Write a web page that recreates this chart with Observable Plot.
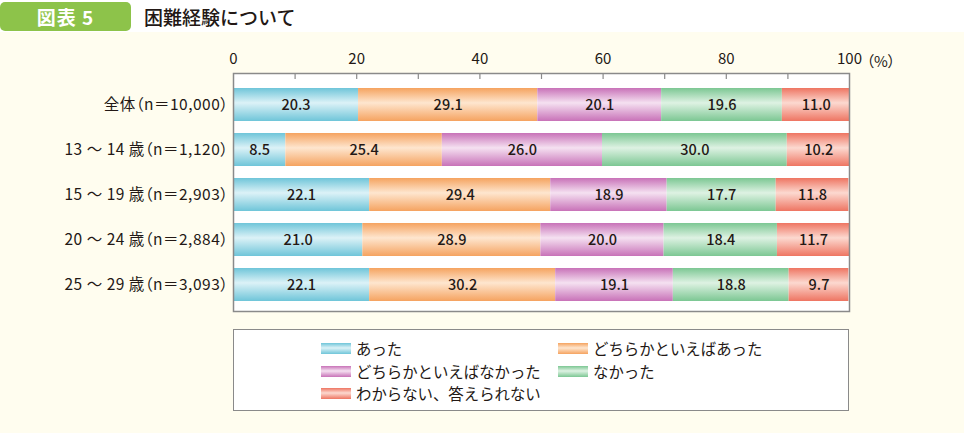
<!DOCTYPE html>
<html>
<head>
<meta charset="utf-8">
<script src="https://cdn.jsdelivr.net/npm/d3@7"></script>
<script src="https://cdn.jsdelivr.net/npm/@observablehq/plot@0.6"></script>
<style>
  body { margin: 0; background: #ffffff; font-family: "Noto Sans CJK JP", sans-serif; }
  svg text { font-feature-settings: "palt"; }
  #wrap { position: relative; width: 964px; height: 433px; overflow: hidden; background: #ffffff; }
  #cream { position: absolute; left: 0; top: 32px; width: 964px; height: 401px; background: #fffdef; }
  #badge { position: absolute; left: 0; top: 2px; width: 131px; height: 29px; background: #8dc34a; border-radius: 5px;
           color: #fff; font-weight: bold; font-size: 19px; line-height: 29px; text-align: center; letter-spacing: 1px; font-feature-settings: "palt"; }
  #title { position: absolute; left: 144px; top: 2px; height: 30px; line-height: 30px; font-size: 19px; color: #231815; font-weight: 500; }
  #chart { position: absolute; left: 0; top: 40px; }
  #legend { position: absolute; left: 233px; top: 329px; width: 614px; height: 80px; background: #fff; border: 1.5px solid #8a8a8a; }
  .item { position: absolute; font-size: 15.4px; color: #231815; line-height: 20px; white-space: nowrap; }
  .sw { position: absolute; width: 30px; height: 11px; }
  .ylab text { letter-spacing: 0.5px; }
</style>
</head>
<body>
<div id="wrap">
  <div id="cream"></div>
  <div id="badge">図表 5</div>
  <div id="title">困難経験について</div>
  <div id="chart"></div>
  <div id="legend"></div>
</div>
<script>
// ---- data ----
const groups = [
  "全体（n＝10,000）",
  "13 ～ 14 歳（n＝1,120）",
  "15 ～ 19 歳（n＝2,903）",
  "20 ～ 24 歳（n＝2,884）",
  "25 ～ 29 歳（n＝3,093）"
];
const categories = [
  "あった",
  "どちらかといえばあった",
  "どちらかといえばなかった",
  "なかった",
  "わからない、答えられない"
];
const valAtta         = [20.3, 8.5, 22.1, 21.0, 22.1];
const valDochiraAtta  = [29.1, 25.4, 29.4, 28.9, 30.2];
const valDochiraNai   = [20.1, 26.0, 18.9, 20.0, 19.1];
const valNakatta      = [19.6, 30.0, 17.7, 18.4, 18.8];
const valWakaranai    = [11.0, 10.2, 11.8, 11.7, 9.7];
const xTickLabels = [0, 20, 40, 60, 80, 100];
const xMinorTicks = [10, 20, 30, 40, 50, 60, 70, 80, 90];
const unitLabel = "（%）";

// colours: [edge, highlight]
const palette = [
  ["#6fc5d9", "#dcf2f7"],
  ["#f5a360", "#fee6cf"],
  ["#c872b8", "#f5e1f1"],
  ["#7cc793", "#def2e3"],
  ["#ee7562", "#fcd9d0"]
];

const series = [valAtta, valDochiraAtta, valDochiraNai, valNakatta, valWakaranai];
const data = [];
groups.forEach((g, gi) => {
  categories.forEach((c, ci) => {
    data.push({group: g, cat: c, value: series[ci][gi]});
  });
});

const gradIds = categories.map((c, i) => `grad${i}`);

const font = "'Noto Sans CJK JP', sans-serif";

const plot = Plot.plot({
  width: 964,
  height: 280,
  marginLeft: 233,
  marginRight: 115,
  marginTop: 33,
  marginBottom: 9,
  style: {background: "transparent", fontFamily: font, color: "#231815", overflow: "visible"},
  x: {domain: [0, 100], label: null},
  y: {domain: groups, label: null, paddingInner: 0.26, paddingOuter: 0.217, align: 0.6},
  color: {domain: categories, range: gradIds.map(id => `url(#${id})`), type: "ordinal"},
  marks: [
    Plot.frame({fill: "white", stroke: null}),
    Plot.barX(data, Plot.stackX({x: "value", y: "group", fill: "cat", clip: true})),
    Plot.text(data, Plot.stackX({x: "value", y: "group", text: d => d.value.toFixed(1), fontSize: 14.5, fontWeight: 500, fill: "#231815"})),
    Plot.frame({stroke: "#8a8a8a", strokeWidth: 1.5}),
    Plot.axisX({anchor: "top", ticks: xMinorTicks, tickSize: -5, tickFormat: () => "", stroke: "#8a8a8a", strokeWidth: 1.2}),
    Plot.axisX({anchor: "top", ticks: xTickLabels, tickSize: 0, tickPadding: 10, fontSize: 15, label: null, fill: "#231815"}),
    Plot.text([100], {x: d => d, frameAnchor: "top", dy: -17, dx: 17, text: () => unitLabel, textAnchor: "start", fontSize: 15, fill: "#231815"}),
    Plot.axisY({tickSize: 0, tickPadding: 5, fontSize: 15.5, label: null, fill: "#231815", className: "ylab"})
  ]
});

// gradient definitions
const ns = "http://www.w3.org/2000/svg";
const defs = document.createElementNS(ns, "defs");
palette.forEach(([edge, mid], i) => {
  const lg = document.createElementNS(ns, "linearGradient");
  lg.setAttribute("id", gradIds[i]);
  lg.setAttribute("x1", "0"); lg.setAttribute("y1", "0");
  lg.setAttribute("x2", "0"); lg.setAttribute("y2", "1");
  [[0, edge], [0.45, mid], [1, edge]].forEach(([o, c]) => {
    const s = document.createElementNS(ns, "stop");
    s.setAttribute("offset", o);
    s.setAttribute("stop-color", c);
    lg.appendChild(s);
  });
  defs.appendChild(lg);
});
plot.insertBefore(defs, plot.firstChild);
document.getElementById("chart").appendChild(plot);

// legend
const legend = document.getElementById("legend");
const legendPos = [
  {sx: 87, tx: 122, y: 18},
  {sx: 324, tx: 359, y: 18},
  {sx: 87, tx: 122, y: 41},
  {sx: 324, tx: 359, y: 41},
  {sx: 87, tx: 122, y: 63}
];
categories.forEach((c, i) => {
  const p = legendPos[i];
  const sw = document.createElement("div");
  sw.className = "sw";
  sw.style.left = p.sx + "px";
  sw.style.top = (p.y - 5.5) + "px";
  sw.style.background = `linear-gradient(to bottom, ${palette[i][0]} 0%, ${palette[i][1]} 45%, ${palette[i][0]} 100%)`;
  legend.appendChild(sw);
  const t = document.createElement("div");
  t.className = "item";
  t.style.left = p.tx + "px";
  t.style.top = (p.y - 10) + "px";
  t.textContent = c;
  legend.appendChild(t);
});
</script>
</body>
</html>
